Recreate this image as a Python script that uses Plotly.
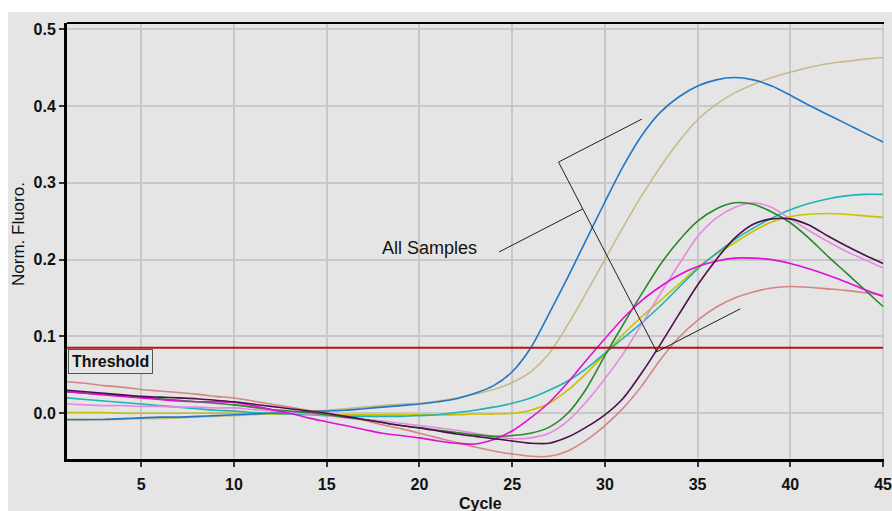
import plotly.graph_objects as go

cycles = list(range(1, 46))

blue = [-0.008, -0.008, -0.008, -0.007, -0.006, -0.005, -0.005, -0.004, -0.003, -0.002,
        -0.001, 0.000, 0.001, 0.002, 0.003, 0.004, 0.006, 0.008, 0.010, 0.012,
        0.015, 0.019, 0.026, 0.036, 0.054, 0.085, 0.130, 0.177, 0.226, 0.275,
        0.322, 0.362, 0.392, 0.412, 0.426, 0.434, 0.437, 0.434, 0.426, 0.414,
        0.401, 0.389, 0.377, 0.365, 0.353]
tan = [-0.009, -0.009, -0.008, -0.008, -0.007, -0.007, -0.006, -0.005, -0.004, -0.003,
       -0.002, 0.000, 0.001, 0.003, 0.004, 0.006, 0.008, 0.010, 0.012, 0.013,
       0.016, 0.020, 0.025, 0.031, 0.040, 0.054, 0.078, 0.115, 0.157, 0.200,
       0.243, 0.284, 0.321, 0.354, 0.382, 0.402, 0.417, 0.428, 0.437, 0.444,
       0.450, 0.455, 0.458, 0.461, 0.463]
cyan = [0.020, 0.018, 0.016, 0.014, 0.012, 0.010, 0.008, 0.006, 0.004, 0.003,
        0.001, 0.000, -0.001, -0.002, -0.003, -0.004, -0.004, -0.004, -0.004, -0.003,
        -0.002, 0.001, 0.004, 0.008, 0.013, 0.020, 0.030, 0.042, 0.058, 0.078,
        0.098, 0.118, 0.140, 0.164, 0.188, 0.208, 0.226, 0.241, 0.254, 0.265,
        0.273, 0.279, 0.283, 0.285, 0.285]
yellow = [0.001, 0.001, 0.001, 0.000, 0.000, 0.000, 0.000, 0.000, 0.000, 0.000,
          0.000, -0.001, -0.001, -0.001, -0.001, -0.002, -0.002, -0.002, -0.002, -0.002,
          -0.002, -0.002, -0.001, -0.001, 0.000, 0.004, 0.013, 0.030, 0.052, 0.077,
          0.103, 0.126, 0.147, 0.168, 0.190, 0.207, 0.222, 0.237, 0.249, 0.256,
          0.259, 0.260, 0.259, 0.257, 0.255]
green = [0.028, 0.026, 0.025, 0.023, 0.021, 0.019, 0.017, 0.015, 0.013, 0.011,
         0.008, 0.005, 0.003, 0.001, -0.002, -0.005, -0.008, -0.012, -0.016, -0.019,
         -0.022, -0.025, -0.028, -0.030, -0.029, -0.026, -0.018, 0.000, 0.032, 0.075,
         0.116, 0.156, 0.194, 0.225, 0.250, 0.266, 0.274, 0.272, 0.262, 0.248,
         0.228, 0.205, 0.183, 0.161, 0.139]
pink = [0.012, 0.011, 0.010, 0.010, 0.009, 0.009, 0.008, 0.008, 0.007, 0.007,
        0.005, 0.003, 0.001, -0.001, -0.003, -0.006, -0.008, -0.010, -0.013, -0.016,
        -0.019, -0.022, -0.026, -0.030, -0.033, -0.032, -0.026, -0.010, 0.015, 0.045,
        0.078, 0.117, 0.156, 0.194, 0.230, 0.254, 0.268, 0.274, 0.268, 0.253,
        0.238, 0.224, 0.211, 0.200, 0.189]
purple = [0.030, 0.028, 0.026, 0.024, 0.022, 0.021, 0.020, 0.019, 0.017, 0.015,
          0.012, 0.009, 0.006, 0.003, 0.000, -0.004, -0.008, -0.012, -0.016, -0.019,
          -0.023, -0.027, -0.030, -0.033, -0.036, -0.039, -0.039, -0.031, -0.018, -0.002,
          0.020, 0.053, 0.090, 0.129, 0.167, 0.200, 0.228, 0.246, 0.253, 0.253,
          0.245, 0.231, 0.218, 0.206, 0.195]
magenta = [0.028, 0.026, 0.024, 0.022, 0.020, 0.018, 0.016, 0.015, 0.015, 0.014,
           0.010, 0.005, 0.000, -0.006, -0.011, -0.016, -0.021, -0.026, -0.029, -0.032,
           -0.036, -0.039, -0.040, -0.034, -0.023, -0.006, 0.014, 0.040, 0.069, 0.097,
           0.124, 0.147, 0.165, 0.180, 0.191, 0.198, 0.202, 0.202, 0.200, 0.195,
           0.188, 0.180, 0.171, 0.161, 0.152]
salmon = [0.041, 0.039, 0.036, 0.034, 0.031, 0.029, 0.027, 0.025, 0.022, 0.020,
          0.016, 0.012, 0.008, 0.004, 0.000, -0.004, -0.009, -0.015, -0.020, -0.026,
          -0.032, -0.038, -0.044, -0.049, -0.053, -0.056, -0.056, -0.049, -0.035, -0.016,
          0.007, 0.036, 0.070, 0.099, 0.121, 0.138, 0.150, 0.158, 0.163, 0.165,
          0.164, 0.162, 0.160, 0.157, 0.154]

series = [
    ("tan", tan, "#c8ba88"),
    ("yellow", yellow, "#c8c200"),
    ("cyan", cyan, "#1fb2b8"),
    ("blue", blue, "#2277c4"),
    ("salmon", salmon, "#d48585"),
    ("pink", pink, "#e38ae3"),
    ("green", green, "#2a872a"),
    ("magenta", magenta, "#e010d8"),
    ("purple", purple, "#4e0f4a"),
]

threshold = 0.0854
x_ticks = [5, 10, 15, 20, 25, 30, 35, 40, 45]
y_ticks = [0.0, 0.1, 0.2, 0.3, 0.4, 0.5]
y_tick_text = ["0.0", "0.1", "0.2", "0.3", "0.4", "0.5"]
x_title = "Cycle"
y_title = "Norm. Fluoro."

# "All Samples" callout bracket and leader (data coords)
bracket_x = [32.0, 27.5, 32.8, 37.3]
bracket_y = [0.383, 0.327, 0.080, 0.136]
leader_x = [24.3, 28.8]
leader_y = [0.210, 0.266]

BG = "#e5e5e5"
GRID = "#c8c8c8"
FONT = "Arial, Liberation Sans, sans-serif"

fig = go.Figure()

for name, vals, col in series:
    fig.add_trace(go.Scatter(x=cycles, y=vals, mode="lines", name=name,
                             line=dict(color=col, width=1.6, shape="spline", smoothing=0.8),
                             hoverinfo="skip", showlegend=False))

fig.add_trace(go.Scatter(x=[1, 45], y=[threshold, threshold], mode="lines",
                         line=dict(color="#b81414", width=2), showlegend=False, hoverinfo="skip"))

fig.add_trace(go.Scatter(x=bracket_x, y=bracket_y, mode="lines",
                         line=dict(color="#202020", width=1), showlegend=False, hoverinfo="skip"))
fig.add_trace(go.Scatter(x=leader_x, y=leader_y, mode="lines",
                         line=dict(color="#202020", width=1), showlegend=False, hoverinfo="skip"))

fig.add_annotation(x=leader_x[0], y=leader_y[0], text="All Samples", showarrow=False,
                   xanchor="right", yanchor="middle", xshift=-20, yshift=4,
                   font=dict(family=FONT, size=18, color="#111111"))

fig.add_annotation(x=1, y=threshold, text="<b>Threshold</b>", showarrow=False,
                   xanchor="left", yanchor="top", xshift=1, yshift=-1,
                   bordercolor="#555555", borderwidth=1, borderpad=3, bgcolor=BG,
                   font=dict(family=FONT, size=16, color="#111111"))

# axis titles
fig.add_annotation(xref="paper", yref="paper", x=(480 - 67) / 817, y=(459 - 503) / 436,
                   text="<b>" + x_title + "</b>", showarrow=False,
                   xanchor="center", yanchor="middle",
                   font=dict(family=FONT, size=16, color="#111111"))
fig.add_annotation(xref="paper", yref="paper", x=(18 - 67) / 817, y=(459 - 234) / 436,
                   text=y_title, showarrow=False, textangle=-90,
                   xanchor="center", yanchor="middle",
                   font=dict(family=FONT, size=17, color="#111111"))

# white frame strips (top and left) of the screenshot
fig.add_shape(type="rect", xref="paper", yref="paper", x0=-0.2, x1=1.2,
              y0=(459 - 12) / 436, y1=1.2, fillcolor="white", line_width=0, layer="below")
fig.add_shape(type="rect", xref="paper", yref="paper", x0=-0.2, x1=(8 - 67) / 817,
              y0=-0.3, y1=1.2, fillcolor="white", line_width=0, layer="below")
# gridline at the right edge (x = 45)
fig.add_shape(type="line", xref="x", yref="paper", x0=x_ticks[-1], x1=x_ticks[-1], y0=0, y1=1,
              line=dict(color=GRID, width=1.5), layer="below")
# top border
fig.add_shape(type="line", xref="paper", yref="paper", x0=0, x1=1, y0=1, y1=1,
              line=dict(color="black", width=2))

fig.update_layout(
    width=892, height=511,
    margin=dict(l=67, r=8, t=23, b=52),
    paper_bgcolor=BG, plot_bgcolor=BG,
    font=dict(family=FONT, size=16, color="#111111"),
    xaxis=dict(range=[1, 45.05], tickvals=x_ticks, showgrid=True, gridcolor=GRID, gridwidth=1.5,
               showline=True, linecolor="black", linewidth=3, ticks="outside", ticklen=5,
               tickwidth=1.5, tickcolor="#333333", zeroline=False, automargin=False,
               ticklabeloverflow="allow",
               tickfont=dict(family=FONT, size=16, color="#111111", weight="bold"),
               ticklabelstandoff=4),
    yaxis=dict(range=[-0.0595, 0.508], tickvals=y_ticks, ticktext=y_tick_text, showgrid=True,
               gridcolor=GRID, gridwidth=1.5, showline=True, linecolor="black", linewidth=3,
               ticks="outside", ticklen=5, tickwidth=1.5, tickcolor="#333333", zeroline=False,
               automargin=False,
               tickfont=dict(family=FONT, size=16, color="#111111", weight="bold")),
)

fig.write_html("out.html")
